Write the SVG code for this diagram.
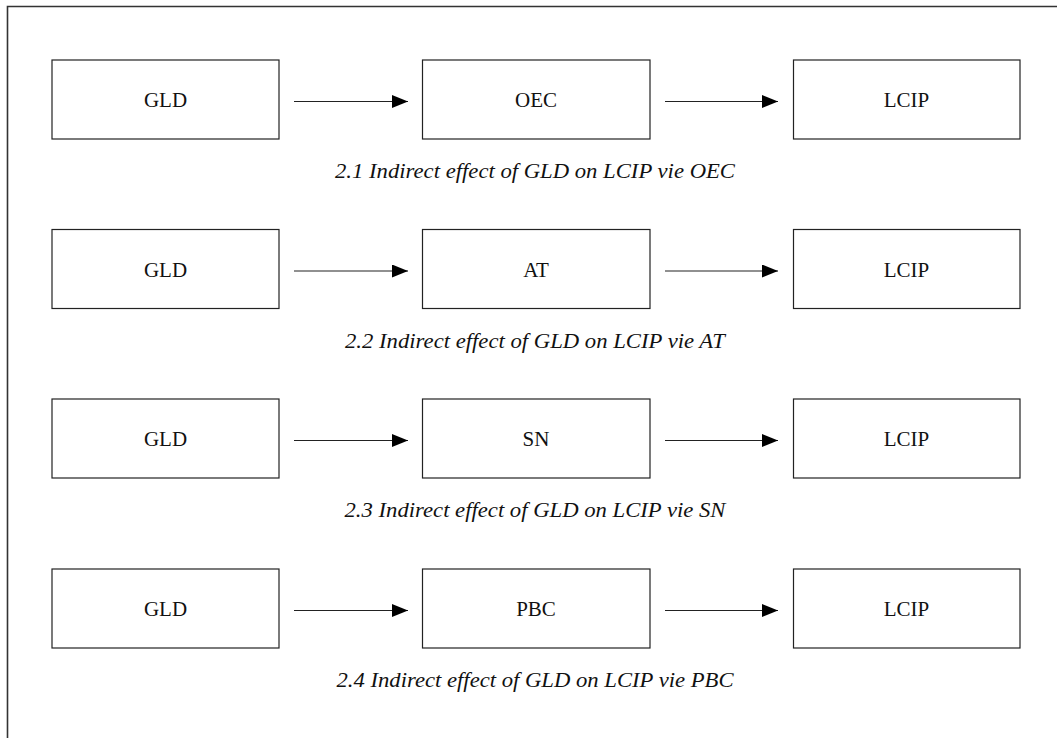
<svg xmlns="http://www.w3.org/2000/svg" width="1057" height="738" viewBox="0 0 1057 738">
<style>
.box{fill:#fff;stroke:#222;stroke-width:1.2}
.lbl{font-family:"Liberation Serif","Times New Roman",serif;font-size:21px;fill:#111;text-anchor:middle}
.cap{font-family:"Liberation Serif","Times New Roman",serif;font-style:italic;font-size:20.5px;fill:#111;text-anchor:middle}
.conn{stroke:#222;stroke-width:1.2;fill:none;marker-end:url(#ah)}
</style>
<defs>
<marker id="ah" markerWidth="16" markerHeight="13" refX="16" refY="6.5" orient="auto" markerUnits="userSpaceOnUse">
<path d="M0,0 L16,6.5 L0,13 Z" fill="#000"/>
</marker>
</defs>
<rect width="1057" height="738" fill="#fff"/>
<path d="M7.5,738 V6.5 H1057" fill="none" stroke="#333" stroke-width="1.6"/>

<g id="row1">
<g id="gld1"><rect class="box" x="52" y="60" width="227" height="79"/><text class="lbl" x="165.5" y="107">GLD</text></g>
<g id="oec"><rect class="box" x="422.5" y="60" width="227.5" height="79"/><text class="lbl" x="536" y="107">OEC</text></g>
<g id="lcip1"><rect class="box" x="793.5" y="60" width="226.5" height="79"/><text class="lbl" x="906.5" y="107">LCIP</text></g>
<text class="cap" x="535" y="178" textLength="400" lengthAdjust="spacingAndGlyphs">2.1 Indirect effect of GLD on LCIP vie OEC</text>
</g>

<g id="row2">
<g id="gld2"><rect class="box" x="52" y="229.5" width="227" height="79"/><text class="lbl" x="165.5" y="276.5">GLD</text></g>
<g id="at"><rect class="box" x="422.5" y="229.5" width="227.5" height="79"/><text class="lbl" x="536" y="276.5">AT</text></g>
<g id="lcip2"><rect class="box" x="793.5" y="229.5" width="226.5" height="79"/><text class="lbl" x="906.5" y="276.5">LCIP</text></g>
<text class="cap" x="535" y="347.5" textLength="380" lengthAdjust="spacingAndGlyphs">2.2 Indirect effect of GLD on LCIP vie AT</text>
</g>

<g id="row3">
<g id="gld3"><rect class="box" x="52" y="399" width="227" height="79"/><text class="lbl" x="165.5" y="446">GLD</text></g>
<g id="sn"><rect class="box" x="422.5" y="399" width="227.5" height="79"/><text class="lbl" x="536" y="446">SN</text></g>
<g id="lcip3"><rect class="box" x="793.5" y="399" width="226.5" height="79"/><text class="lbl" x="906.5" y="446">LCIP</text></g>
<text class="cap" x="535" y="517" textLength="381" lengthAdjust="spacingAndGlyphs">2.3 Indirect effect of GLD on LCIP vie SN</text>
</g>

<g id="row4">
<g id="gld4"><rect class="box" x="52" y="569" width="227" height="79"/><text class="lbl" x="165.5" y="616">GLD</text></g>
<g id="pbc"><rect class="box" x="422.5" y="569" width="227.5" height="79"/><text class="lbl" x="536" y="616">PBC</text></g>
<g id="lcip4"><rect class="box" x="793.5" y="569" width="226.5" height="79"/><text class="lbl" x="906.5" y="616">LCIP</text></g>
<text class="cap" x="535" y="687" textLength="397" lengthAdjust="spacingAndGlyphs">2.4 Indirect effect of GLD on LCIP vie PBC</text>
</g>

<g id="connectors">
<line class="conn" x1="294" y1="101.5" x2="408" y2="101.5"/>
<line class="conn" x1="665" y1="101.5" x2="778" y2="101.5"/>
<line class="conn" x1="294" y1="271" x2="408" y2="271"/>
<line class="conn" x1="665" y1="271" x2="778" y2="271"/>
<line class="conn" x1="294" y1="440.5" x2="408" y2="440.5"/>
<line class="conn" x1="665" y1="440.5" x2="778" y2="440.5"/>
<line class="conn" x1="294" y1="610.5" x2="408" y2="610.5"/>
<line class="conn" x1="665" y1="610.5" x2="778" y2="610.5"/>
</g>
</svg>
